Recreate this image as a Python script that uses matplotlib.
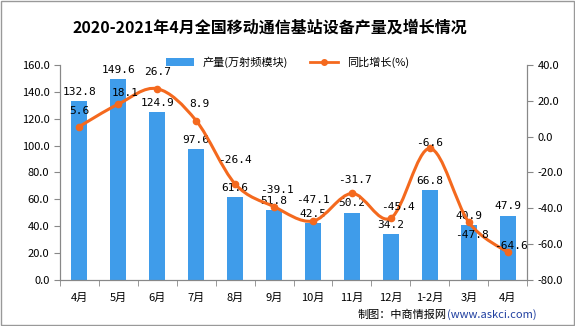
import matplotlib.pyplot as plt
import numpy as np
from matplotlib.path import Path
from matplotlib.patches import PathPatch

plt.rcParams['font.family'] = ['Noto Sans CJK SC', 'DejaVu Sans']

months = ['4月', '5月', '6月', '7月', '8月', '9月', '10月', '11月', '12月', '1-2月', '3月', '4月']
output = [132.8, 149.6, 124.9, 97.6, 61.6, 51.8, 42.5, 50.2, 34.2, 66.8, 40.9, 47.9]
growth = [5.6, 18.1, 26.7, 8.9, -26.4, -39.1, -47.1, -31.7, -45.4, -6.6, -47.8, -64.6]

# label offsets of the growth values (pixels, right / up)
lab_dx = [0, 7, 0, 3, 0, 3, 0, 3, 7, 0, 3, 3]
lab_dy = [16, 11, 17, 17, 24, 17, 21, 13, 11, 5, -13, 6]

bar_color = '#3f9cea'
line_color = '#f4691e'

fig = plt.figure(figsize=(5.75, 3.26), dpi=100)
ax = fig.add_axes([0.104, 0.141, 0.813, 0.660])
ax2 = ax.twinx()

x = np.arange(len(months))
ax.bar(x, output, width=0.42, color=bar_color, label='产量(万射频模块)', zorder=2)
for xi, v in zip(x, output):
    ax.annotate(f'{v}', (xi, v), xytext=(0, 3), textcoords='offset points',
                ha='center', va='bottom', fontsize=8, family='DejaVu Sans Mono')

# smooth curve through the points (catmull-rom as bezier)
pts = np.column_stack([x, growth]).astype(float)
verts = [tuple(pts[0])]
codes = [Path.MOVETO]
for i in range(len(pts) - 1):
    p0 = pts[max(i - 1, 0)]
    p1 = pts[i]
    p2 = pts[i + 1]
    p3 = pts[min(i + 2, len(pts) - 1)]
    c1 = p1 + (p2 - p0) / 6
    c2 = p2 - (p3 - p1) / 6
    verts += [tuple(c1), tuple(c2), tuple(p2)]
    codes += [Path.CURVE4] * 3
ax2.add_patch(PathPatch(Path(verts, codes), fill=False, edgecolor=line_color, lw=2.2, zorder=3))
ax2.plot(x, growth, 'o', color=line_color, ms=4.5, zorder=4)
ax2.plot([], [], '-o', color=line_color, lw=2, ms=4, label='同比增长(%)')
for xi, v, dx, dy in zip(x, growth, lab_dx, lab_dy):
    ax2.annotate(f'{v}', (xi, v), xytext=(dx * 0.72, dy * 0.72), textcoords='offset points',
                 ha='center', va='center', fontsize=8, family='DejaVu Sans Mono', zorder=5)

ax.set_xlim(-0.5, len(months) - 0.5)
ax.set_ylim(0, 160)
ax.set_yticks(np.arange(0, 161, 20))
ax.set_yticklabels([f'{t:.1f}' for t in np.arange(0, 161, 20)], fontsize=8)
ax2.set_ylim(-80, 40)
ax2.set_yticks(np.arange(-80, 41, 20))
ax2.set_yticklabels([f'{t:.1f}' for t in np.arange(-80, 41, 20)], fontsize=8)

ax.set_xticks(x)
ax.set_xticklabels(months, fontsize=8)
ax.set_xticks(np.arange(-0.5, len(months), 1), minor=True)
ax.tick_params(axis='x', which='major', length=0, pad=9)
ax.tick_params(axis='x', which='minor', length=4, color='#888888')
ax.tick_params(axis='y', length=4, color='#888888')
ax2.tick_params(axis='y', length=4, color='#888888')

for a in (ax, ax2):
    a.spines['top'].set_visible(False)
    for s in ('left', 'right', 'bottom'):
        a.spines[s].set_color('#888888')

h1, l1 = ax.get_legend_handles_labels()
h2, l2 = ax2.get_legend_handles_labels()
fig.legend(h1 + h2, l1 + l2, loc='center', bbox_to_anchor=(0.5, 0.81), ncol=2,
           frameon=False, fontsize=8, handlelength=2.5, columnspacing=2)

fig.text(0.47, 0.915, '2020-2021年4月全国移动通信基站设备产量及增长情况', ha='center', va='center',
         fontsize=11.5, fontweight='bold')
fig.text(0.777, 0.035, '制图：中商情报网', ha='right', va='center', fontsize=8)
fig.text(0.777, 0.035, '(www.askci.com)', ha='left', va='center', fontsize=8, color='#1f3fa0')

fig.patches.append(plt.Rectangle((0.001, 0.002), 0.997, 0.995, transform=fig.transFigure,
                                 fill=False, edgecolor='#999999', lw=1))

fig.savefig('out.png', dpi=100)
